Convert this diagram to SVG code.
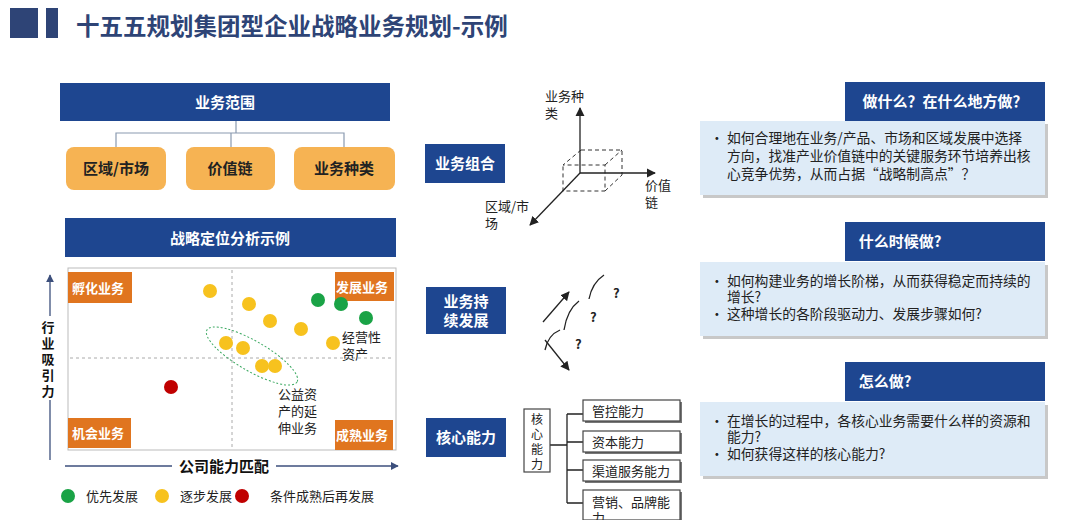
<svg xmlns="http://www.w3.org/2000/svg" width="1080" height="520" viewBox="0 0 1080 520">
<defs>
<style>
text{font-family:"Noto Sans CJK SC","Noto Sans",sans-serif}
.bar{fill:#1e4690}
.bt{fill:#fff;font-size:15px;font-weight:bold;text-anchor:middle}
.ob{fill:#f6b353}
.ot{fill:#222;font-size:15px;font-weight:bold;text-anchor:middle}
.q{fill:#e0751f}
.qt{fill:#fff;font-size:13px;font-weight:bold}
.t{fill:#222;font-size:13px}
.pt{fill:#222;font-size:13.8px}
.panel{fill:#deebf7}
.sh{fill:#c8c8c8}
.ln{stroke:#222;stroke-width:1.3;fill:none}
.yd{fill:#f7c21e}.gd{fill:#1aa346}.rd{fill:#c00000}
.cb{fill:#fff;stroke:#444;stroke-width:1.2}
.vt{fill:#222;font-size:12px;text-anchor:middle}
.yl{fill:#111;font-size:13px;font-weight:bold;text-anchor:middle}
</style>
<marker id="ah" viewBox="0 0 10 10" refX="9" refY="5" markerWidth="7" markerHeight="7" orient="auto"><path d="M0,0L10,5L0,10z" fill="#222"/></marker>
<marker id="ab" viewBox="0 0 10 10" refX="9" refY="5" markerWidth="6" markerHeight="6" orient="auto"><path d="M0,0L10,5L0,10z" fill="#3c4f7c"/></marker>
</defs>
<rect width="1080" height="520" fill="#fff"/>
<g id="title">
<rect x="10" y="8" width="28" height="30" fill="#2e4476"/>
<rect x="46" y="8" width="12" height="30" fill="#2e4476"/>
<text x="76" y="35" font-size="23.5" font-weight="bold" fill="#2e4476">十五五规划集团型企业战略业务规划-示例</text>
</g>
<g id="connectors">
<path d="M236,121V133M116,147V133H344V147M231,133V147" stroke="#8a9ab0" stroke-width="1.2" fill="none"/>
<path d="M550,445H567M567,414V503M567,414H583M567,442H583M567,470H583M567,503H583" class="ln"/>
</g>
<g id="scope"><rect class="bar" x="60" y="83" width="330" height="38"/><text class="bt" x="225" y="108">业务范围</text></g>
<g id="n-region"><rect class="ob" x="66" y="147" width="100" height="43" rx="8"/><text class="ot" x="116" y="174">区域/市场</text></g>
<g id="n-value"><rect class="ob" x="186" y="147" width="89" height="43" rx="8"/><text class="ot" x="230" y="174">价值链</text></g>
<g id="n-type"><rect class="ob" x="294" y="147" width="101" height="43" rx="8"/><text class="ot" x="344" y="174">业务种类</text></g>
<g id="pos"><rect class="bar" x="65" y="218" width="331" height="39"/><text class="bt" x="230" y="244">战略定位分析示例</text></g>
<g id="chart">
<rect x="68" y="268" width="328" height="182" fill="#fff" stroke="#bbb"/>
<path d="M232,270V448M70,358H394" stroke="#aaa" stroke-dasharray="3,3"/>
<rect class="q" x="68" y="272" width="64" height="31"/><text class="qt" x="72" y="293">孵化业务</text>
<rect class="q" x="335" y="272" width="59" height="29"/><text class="qt" x="336" y="292">发展业务</text>
<rect class="q" x="68" y="418" width="63" height="30"/><text class="qt" x="72" y="438">机会业务</text>
<rect class="q" x="335" y="420" width="58" height="30"/><text class="qt" x="336" y="440">成熟业务</text>
<ellipse cx="252" cy="356" rx="52" ry="15" transform="rotate(30 252 356)" fill="none" stroke="#3aa860" stroke-dasharray="2,2"/>
<g class="yd"><circle cx="210" cy="291" r="7"/><circle cx="249" cy="304" r="7"/><circle cx="270" cy="321" r="7"/><circle cx="301" cy="329" r="7"/><circle cx="333" cy="343" r="7"/><circle cx="226" cy="343" r="7"/><circle cx="243" cy="348" r="7"/><circle cx="262" cy="366" r="7"/><circle cx="275" cy="366" r="7"/></g>
<g class="gd"><circle cx="318" cy="300" r="7"/><circle cx="341" cy="304" r="7"/><circle cx="366" cy="318" r="7"/></g>
<circle class="rd" cx="171" cy="387" r="7"/>
<text class="t" x="342" y="342">经营性</text><text class="t" x="342" y="359">资产</text>
<text class="t" x="278" y="399">公益资</text><text class="t" x="278" y="416">产的延</text><text class="t" x="278" y="433">伸业务</text>
<path d="M50,460V275" stroke="#3c4f7c" stroke-width="1.3" marker-end="url(#ab)"/>
<rect x="37" y="316" width="22" height="84" fill="#fff"/>
<text class="yl" x="48" y="332">行</text><text class="yl" x="48" y="348">业</text><text class="yl" x="48" y="364">吸</text><text class="yl" x="48" y="380">引</text><text class="yl" x="48" y="396">力</text>
<path d="M65,466H398" stroke="#3c4f7c" stroke-width="1.3" marker-end="url(#ab)"/>
<rect x="172" y="456" width="104" height="21" fill="#fff"/>
<text x="224" y="472" font-size="15" font-weight="bold" fill="#111" text-anchor="middle">公司能力匹配</text>
</g>
<g id="legend">
<circle class="gd" cx="68" cy="496" r="7"/><text class="t" x="86" y="501">优先发展</text>
<circle class="yd" cx="162" cy="496" r="7"/><text class="t" x="180" y="501">逐步发展</text>
<circle class="rd" cx="242" cy="496" r="7"/><text class="t" x="270" y="501">条件成熟后再发展</text>
</g>
<g id="m1"><rect class="bar" x="425" y="144" width="80" height="39"/><text class="bt" x="465" y="169">业务组合</text></g>
<g id="m2"><rect class="bar" x="426" y="287" width="80" height="47"/><text class="bt" x="466" y="307">业务持</text><text class="bt" x="466" y="326">续发展</text></g>
<g id="m3"><rect class="bar" x="426" y="418" width="80" height="39"/><text class="bt" x="466" y="443">核心能力</text></g>
<g id="axes3d">
<path d="M581,150H622V175M581,150L563,165H605V191H563V165M605,191L622,175M605,165L622,150" stroke="#333" stroke-dasharray="4,3" fill="none"/>
<path d="M580,173V108" class="ln" marker-end="url(#ah)"/>
<path d="M580,173H655" class="ln" marker-end="url(#ah)"/>
<path d="M580,173L530,225" class="ln" marker-end="url(#ah)"/>
<text class="t" x="545" y="101">业务种</text><text class="t" x="545" y="118">类</text>
<text class="t" x="645" y="190">价值</text><text class="t" x="645" y="207">链</text>
<text class="t" x="485" y="211">区域/市</text><text class="t" x="485" y="228">场</text>
</g>
<g id="growth">
<path d="M543,322L569,292" class="ln" marker-end="url(#ah)"/>
<path d="M589,299Q592,283 604,275" class="ln"/>
<path d="M564,330Q567,310 579,301" class="ln"/>
<path d="M545,350Q548,335 560,330" class="ln"/>
<path d="M545,340L569,370" class="ln" marker-end="url(#ah)"/>
<text x="613" y="298" font-size="13" font-weight="bold" fill="#222">?</text>
<text x="590" y="322" font-size="13" font-weight="bold" fill="#222">?</text>
<text x="575" y="349" font-size="13" font-weight="bold" fill="#222">?</text>
</g>
<g id="core"><rect class="cb" x="524" y="409" width="26" height="63"/>
<text class="vt" x="537" y="424">核</text><text class="vt" x="537" y="439">心</text><text class="vt" x="537" y="454">能</text><text class="vt" x="537" y="469">力</text></g>
<g id="c1"><rect x="585" y="402" width="97" height="21" fill="#777"/><rect class="cb" x="583" y="400" width="97" height="21"/><text class="t" x="592" y="416">管控能力</text></g>
<g id="c2"><rect x="585" y="433" width="97" height="21" fill="#777"/><rect class="cb" x="583" y="431" width="97" height="21"/><text class="t" x="592" y="447">资本能力</text></g>
<g id="c3"><rect x="585" y="462" width="97" height="21" fill="#777"/><rect class="cb" x="583" y="460" width="97" height="21"/><text class="t" x="592" y="476">渠道服务能力</text></g>
<g id="c4"><rect x="585" y="492" width="97" height="30" fill="#777"/><rect class="cb" x="583" y="490" width="97" height="30"/><text class="t" x="592" y="507">营销、品牌能</text><text class="t" x="592" y="523">力</text></g>
<g id="r1">
<rect class="sh" x="703" y="124" width="345" height="74"/><rect class="panel" x="700" y="121" width="345" height="74"/>
<rect class="bar" x="845" y="82" width="200" height="39"/><text class="bt" x="945" y="107">做什么？在什么地方做？</text>
<text class="pt" x="710" y="143">•</text>
<text class="pt" x="727" y="143">如何合理地在业务/产品、市场和区域发展中选择</text>
<text class="pt" x="727" y="161">方向，找准产业价值链中的关键服务环节培养出核</text>
<text class="pt" x="727" y="179">心竞争优势，从而占据“战略制高点”？</text>
</g>
<g id="r2">
<rect class="sh" x="703" y="265" width="345" height="74"/><rect class="panel" x="700" y="262" width="345" height="74"/>
<rect class="bar" x="845" y="222" width="200" height="39"/><text class="bt" x="900" y="247">什么时候做?</text>
<text class="pt" x="710" y="286">•</text><text class="pt" x="727" y="286">如何构建业务的增长阶梯，从而获得稳定而持续的</text>
<text class="pt" x="727" y="302">增长?</text>
<text class="pt" x="710" y="319">•</text><text class="pt" x="727" y="319">这种增长的各阶段驱动力、发展步骤如何?</text>
</g>
<g id="r3">
<rect class="sh" x="703" y="405" width="345" height="74"/><rect class="panel" x="700" y="402" width="345" height="74"/>
<rect class="bar" x="845" y="362" width="200" height="39"/><text class="bt" x="885" y="387">怎么做?</text>
<text class="pt" x="710" y="426">•</text><text class="pt" x="727" y="426">在增长的过程中，各核心业务需要什么样的资源和</text>
<text class="pt" x="727" y="442">能力?</text>
<text class="pt" x="710" y="459">•</text><text class="pt" x="727" y="459">如何获得这样的核心能力?</text>
</g>
</svg>
